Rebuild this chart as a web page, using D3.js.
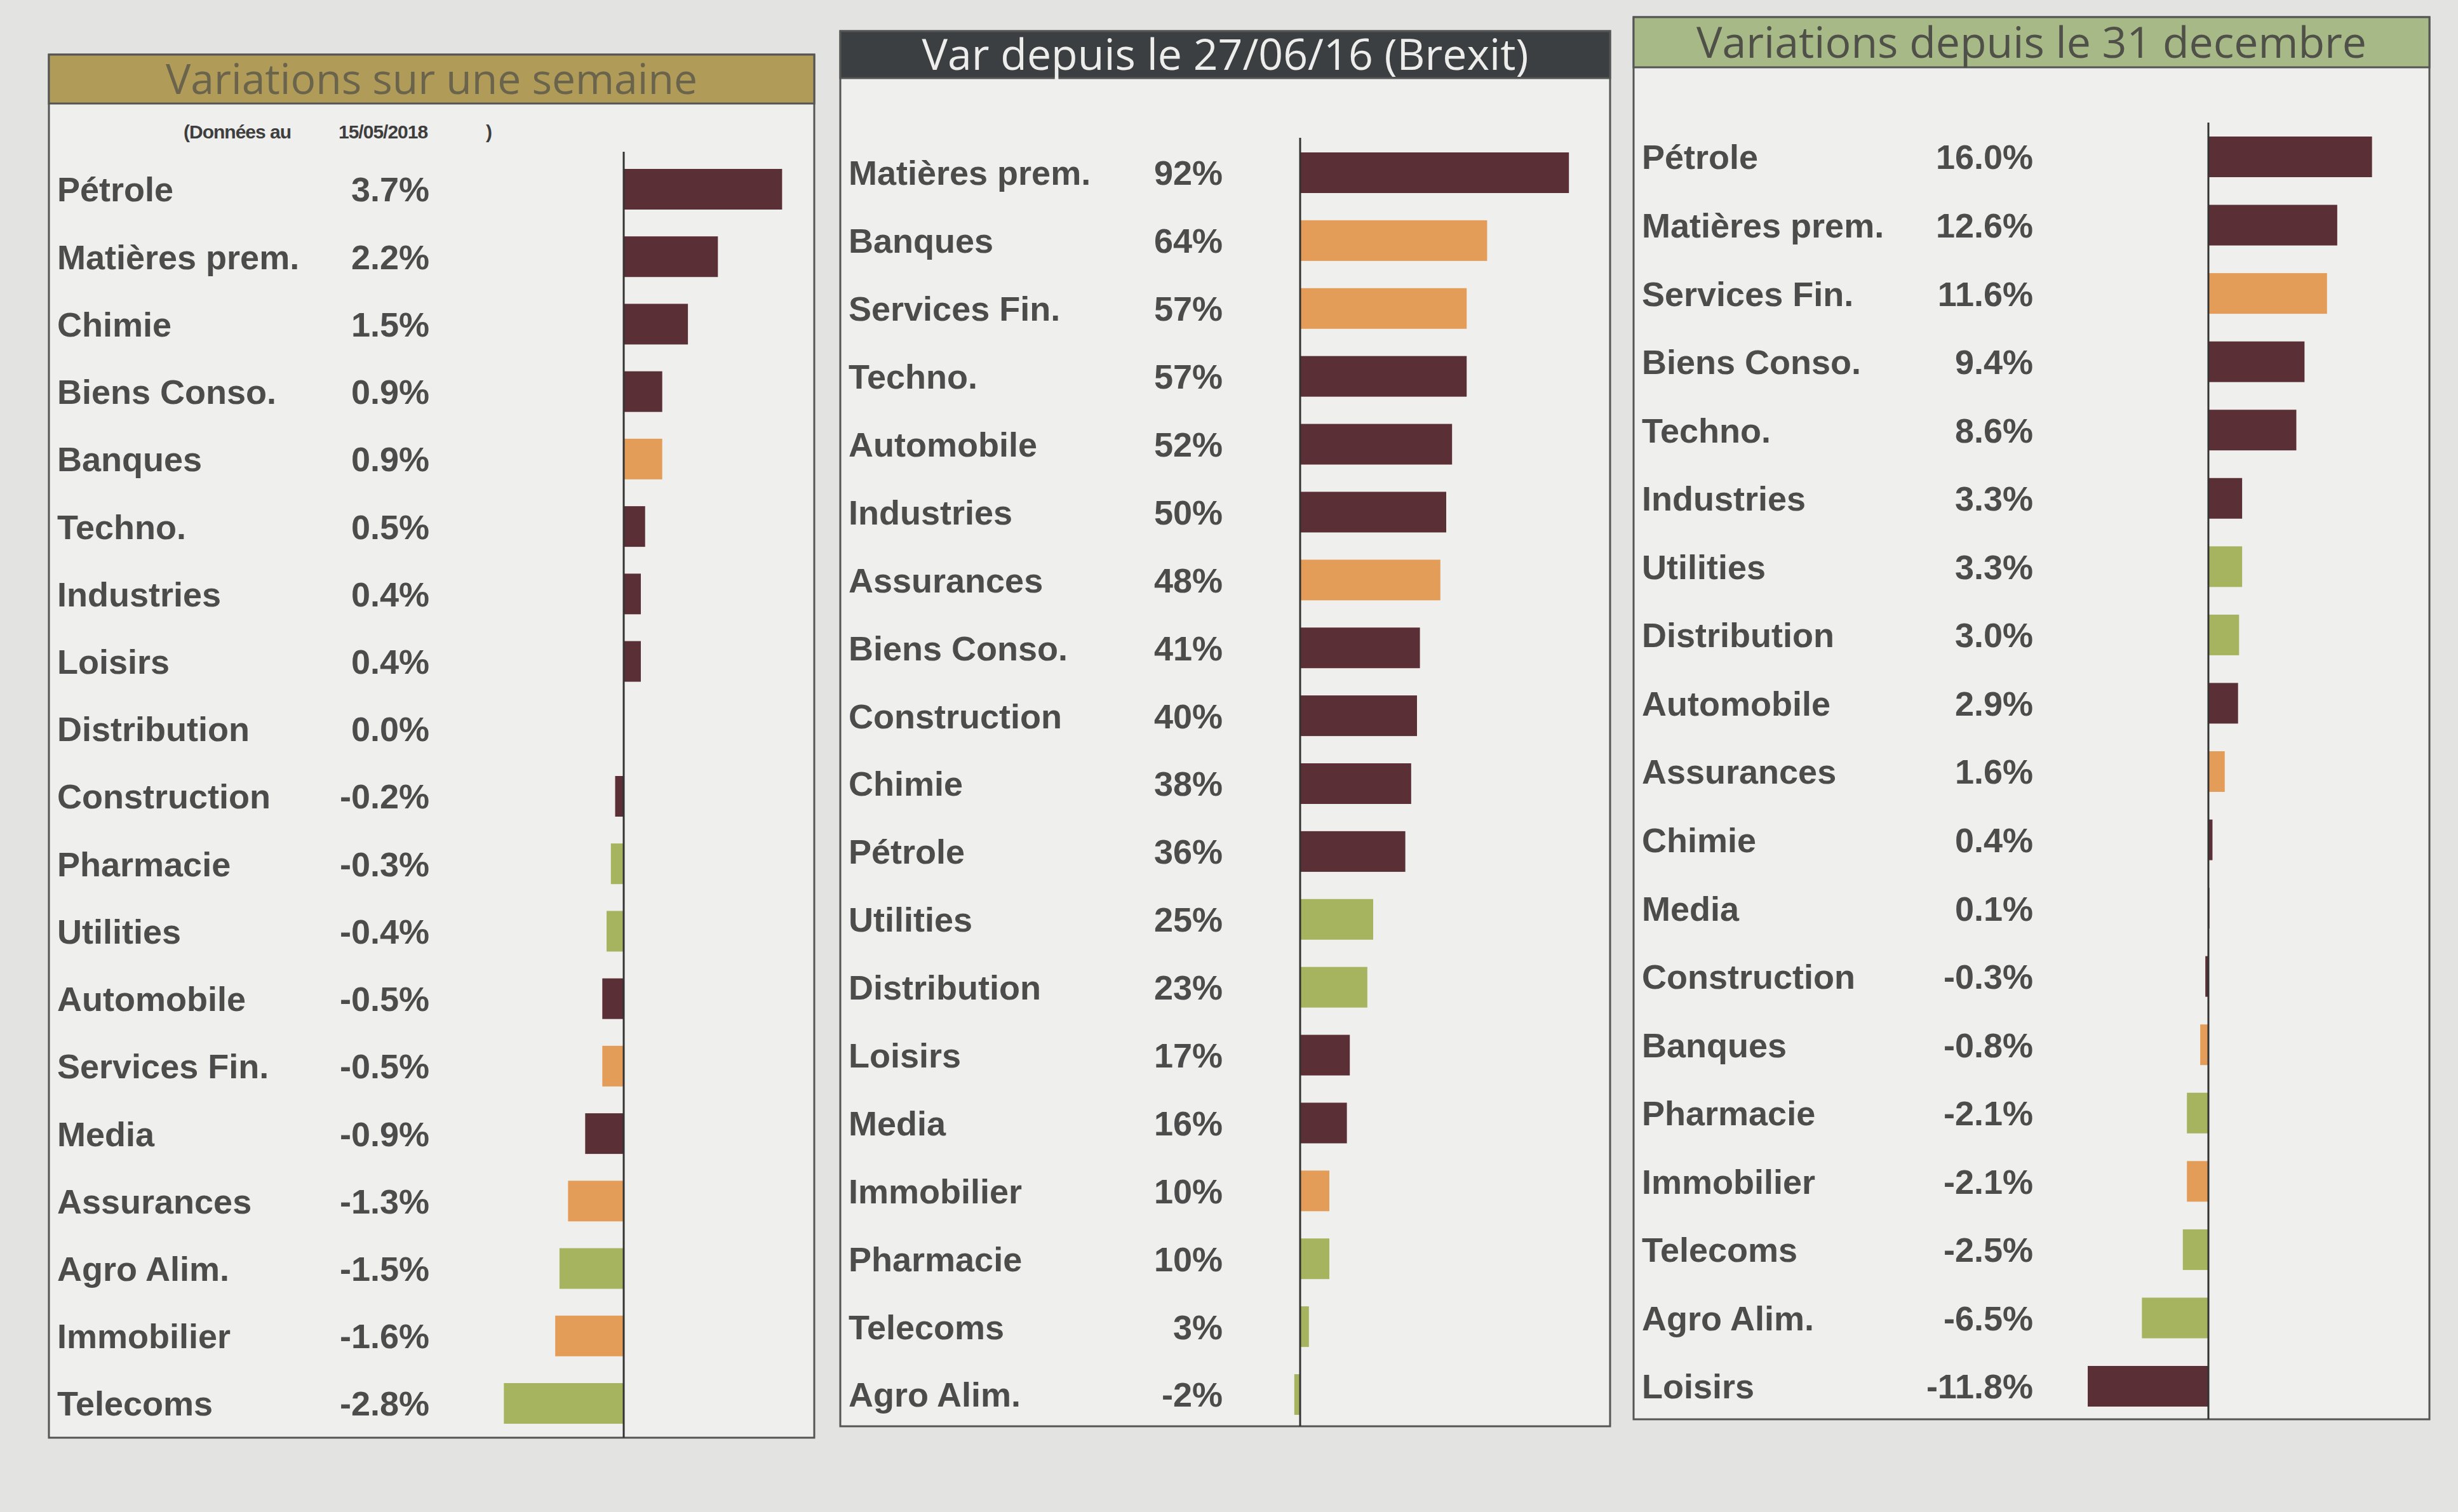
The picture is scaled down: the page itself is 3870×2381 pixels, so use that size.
<!DOCTYPE html>
<html>
<head>
<meta charset="utf-8">
<script src="https://cdn.jsdelivr.net/npm/d3@7/dist/d3.min.js"></script>
<style>
  html, body { margin: 0; padding: 0; background: #e3e3e1; }
  svg { display: block; }
</style>
</head>
<body>
<script>
// ---------- DATA ----------
const weekTitle = "Variations sur une semaine";
const weekDateNote = ["(Données au", "15/05/2018", ")"];
const weekSectors = ["Pétrole","Matières prem.","Chimie","Biens Conso.","Banques","Techno.","Industries","Loisirs","Distribution","Construction","Pharmacie","Utilities","Automobile","Services Fin.","Media","Assurances","Agro Alim.","Immobilier","Telecoms"];
const weekValues  = [3.7, 2.2, 1.5, 0.9, 0.9, 0.5, 0.4, 0.4, 0.0, -0.2, -0.3, -0.4, -0.5, -0.5, -0.9, -1.3, -1.5, -1.6, -2.8];

const brexitTitle = "Var depuis le 27/06/16 (Brexit)";
const brexitSectors = ["Matières prem.","Banques","Services Fin.","Techno.","Automobile","Industries","Assurances","Biens Conso.","Construction","Chimie","Pétrole","Utilities","Distribution","Loisirs","Media","Immobilier","Pharmacie","Telecoms","Agro Alim."];
const brexitValues  = [92, 64, 57, 57, 52, 50, 48, 41, 40, 38, 36, 25, 23, 17, 16, 10, 10, 3, -2];

const ytdTitle = "Variations depuis le 31 decembre";
const ytdSectors = ["Pétrole","Matières prem.","Services Fin.","Biens Conso.","Techno.","Industries","Utilities","Distribution","Automobile","Assurances","Chimie","Media","Construction","Banques","Pharmacie","Immobilier","Telecoms","Agro Alim.","Loisirs"];
const ytdValues  = [16.0, 12.6, 11.6, 9.4, 8.6, 3.3, 3.3, 3.0, 2.9, 1.6, 0.4, 0.1, -0.3, -0.8, -2.1, -2.1, -2.5, -6.5, -11.8];

// sector families (drive bar colour)
const cyclicalSectors  = ["Pétrole","Matières prem.","Chimie","Biens Conso.","Techno.","Industries","Loisirs","Construction","Automobile","Media"];
const financialSectors = ["Banques","Services Fin.","Assurances","Immobilier"];
const defensiveSectors = ["Distribution","Pharmacie","Utilities","Agro Alim.","Telecoms"];

// ---------- STYLE ----------
const familyColor = d3.scaleOrdinal()
  .domain(["cyclical","financial","defensive"])
  .range(["#5b2f36","#e49d58","#a7b45f"]);
function familyOf(s){
  if (financialSectors.includes(s)) return "financial";
  if (defensiveSectors.includes(s)) return "defensive";
  return "cyclical";
}
const textColor = "#4c4c4c";

const W = 3870, H = 2381;
const svg = d3.select("body").append("svg").attr("width", W).attr("height", H);
svg.append("rect").attr("width", W).attr("height", H).attr("fill", "#e3e3e1");

const panels = [
  { title: weekTitle, sectors: weekSectors, values: weekValues, decimals: 1,
    box: [77, 1282, 86, 2264], headerBottom: 163, headerFill: "#b19b58", headerText: "#6a644c", titleSize: 66,
    rows: [298, 2210], labelX: 90, valueX: 676, domain: [-3, 4], range: [779.8, 1251.6], axisTop: 239, note: true },
  { title: brexitTitle, sectors: brexitSectors, values: brexitValues, decimals: 0,
    box: [1323, 2535, 49, 2246], headerFill: "#3b3f41", headerText: "#ededeb", headerBottom: 123, titleSize: 68,
    rows: [272, 2196], labelX: 1336, valueX: 1925, domain: [-10, 100], range: [2001, 2507], axisTop: 217 },
  { title: ytdTitle, sectors: ytdSectors, values: ytdValues, decimals: 1,
    box: [2572, 3825, 27, 2235], headerFill: "#a8b988", headerText: "#4f5048", headerBottom: 106, titleSize: 68,
    rows: [247, 2183], labelX: 2585, valueX: 3201, domain: [-12, 18], range: [3283.8, 3766.8], axisTop: 193 }
];

panels.forEach(p => {
  const g = svg.append("g");
  const [x0, x1, y0, y1] = p.box;

  // panel box
  g.append("rect").attr("x", x0).attr("y", y0).attr("width", x1 - x0).attr("height", y1 - y0)
    .attr("fill", "#efefed").attr("stroke", "#555").attr("stroke-width", 3);
  // header band
  g.append("rect").attr("x", x0).attr("y", y0).attr("width", x1 - x0).attr("height", p.headerBottom - y0)
    .attr("fill", p.headerFill).attr("stroke", "#555").attr("stroke-width", 3);
  g.append("text")
    .attr("x", (x0 + x1) / 2).attr("y", (y0 + p.headerBottom) / 2).attr("dy", "0.36em")
    .attr("text-anchor", "middle")
    .attr("font-family", "'Open Sans', 'Noto Sans', sans-serif")
    .attr("font-size", p.titleSize).attr("fill", p.headerText)
    .text(p.title);

  if (p.note) {
    const nx = [289, 533, 765];
    weekDateNote.forEach((t, i) => {
      g.append("text").attr("x", nx[i]).attr("y", 207).attr("dy", "0.35em")
        .attr("font-family", "'Liberation Sans Narrow', 'Liberation Sans', Arial, sans-serif")
        .attr("font-size", 30).attr("font-weight", "bold").attr("letter-spacing", -1)
        .attr("fill", "#3e3e3e").text(t);
    });
  }

  const x = d3.scaleLinear().domain(p.domain).range(p.range);
  const y = d3.scalePoint().domain(p.sectors).range(p.rows);
  const barH = 64;
  const data = p.sectors.map((s, i) => ({ s, v: p.values[i] }));

  // bars
  g.selectAll("rect.bar").data(data).join("rect")
    .attr("class", "bar")
    .attr("x", d => x(Math.min(0, d.v)))
    .attr("width", d => Math.abs(x(d.v) - x(0)))
    .attr("y", d => y(d.s) - barH / 2)
    .attr("height", barH)
    .attr("fill", d => familyColor(familyOf(d.s)));

  // zero axis
  g.append("line").attr("x1", x(0)).attr("x2", x(0)).attr("y1", p.axisTop).attr("y2", y1)
    .attr("stroke", "#333").attr("stroke-width", 3);

  // sector labels
  g.selectAll("text.lab").data(data).join("text")
    .attr("class", "lab")
    .attr("x", p.labelX).attr("y", d => y(d.s)).attr("dy", "0.36em")
    .attr("font-family", "'Liberation Sans', Arial, sans-serif")
    .attr("font-weight", "bold").attr("font-size", 54).attr("fill", textColor)
    .text(d => d.s);

  // value labels
  g.selectAll("text.val").data(data).join("text")
    .attr("class", "val")
    .attr("x", p.valueX).attr("y", d => y(d.s)).attr("dy", "0.36em")
    .attr("text-anchor", "end")
    .attr("font-family", "'Liberation Sans', Arial, sans-serif")
    .attr("font-weight", "bold").attr("font-size", 54).attr("fill", textColor)
    .text(d => d.v.toFixed(p.decimals) + "%");
});
</script>
</body>
</html>
